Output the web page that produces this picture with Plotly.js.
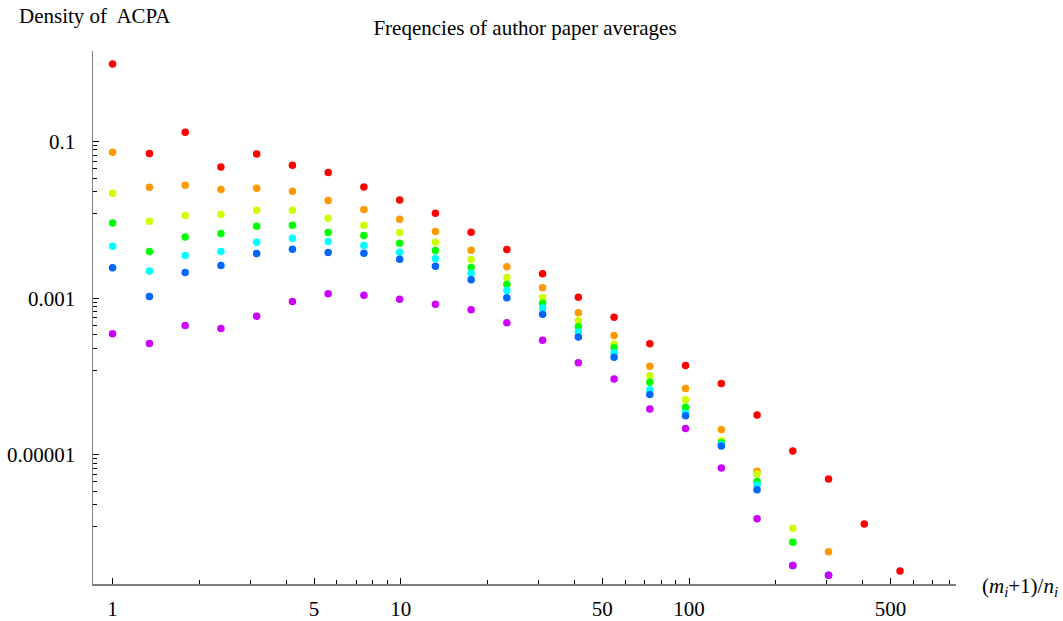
<!DOCTYPE html>
<html>
<head>
<meta charset="utf-8">
<script src="https://cdn.plot.ly/plotly-3.0.1.min.js"></script>
<style>
  html, body { margin: 0; padding: 0; background: #fff; }
  #chart { width: 1063px; height: 621px; }
</style>
</head>
<body>
<div id="chart"></div>
<script>
// x positions, (m_i+1)/n_i
const xValues = [1.00, 1.342, 1.786, 2.376, 3.161, 4.206, 5.596, 7.444, 9.904, 13.18, 17.53, 23.32,
                 31.03, 41.28, 54.93, 73.08, 97.23, 129.4, 172.1, 229.0, 304.7, 405.3, 539.3];

// densities, one array per series (null = no point)
const seriesRed    = [0.978, 0.0703, 0.1314, 0.0474, 0.0695, 0.0498, 0.0402, 0.02634, 0.01797, 0.01216, 0.00696, 0.00418,
                      0.002043, 0.00103, 0.000572, 0.000261, 0.0001384, 8.15e-5, 3.21e-5, 1.115e-5, 4.90e-6, 1.305e-6, 3.28e-7];
const seriesOrange = [0.0730, 0.0261, 0.0277, 0.0244, 0.02535, 0.0232, 0.01766, 0.01355, 0.01019, 0.0071, 0.0041, 0.00251,
                      0.001354, 0.000649, 0.000334, 0.0001347, 7.04e-5, 2.11e-5, 6.14e-6, null, 5.78e-7, null, null];
const seriesYellow = [0.02188, 0.00961, 0.01136, 0.0117, 0.01328, 0.01328, 0.0105, 0.00855, 0.0069, 0.00518, 0.00312, 0.001837,
                      0.00102, 0.000513, 0.00026, 0.000102, 5.06e-5, 1.51e-5, 5.67e-6, 1.15e-6, null, null, null];
const seriesGreen  = [0.00914, 0.00394, 0.00606, 0.0067, 0.0083, 0.00855, 0.0069, 0.00632, 0.00504, 0.00406, 0.002465, 0.001496,
                      0.000864, 0.00043, 0.000232, 8.42e-5, 4.06e-5, 1.42e-5, 4.57e-6, 7.62e-7, null, null, null];
const seriesCyan   = [0.00461, 0.00223, 0.00351, 0.00394, 0.00518, 0.00583, 0.00529, 0.00471, 0.00386, 0.00321, 0.002085, 0.001254,
                      0.000746, 0.000371, 0.0002015, 6.75e-5, 3.38e-5, 1.357e-5, 4.1e-6, null, null, null, null];
const seriesBlue   = [0.002436, 0.001051, 0.002128, 0.002615, 0.00372, 0.00422, 0.00383, 0.00375, 0.00315, 0.00256, 0.001712, 0.001009,
                      0.000625, 0.000318, 0.0001755, 5.87e-5, 3.15e-5, 1.29e-5, 3.58e-6, 3.86e-7, 2.89e-7, null, null];
const seriesPurple = [0.00035, 0.000264, 0.000448, 0.00041, 0.000589, 0.000908, 0.001135, 0.001092, 0.00097, 0.000838, 0.000709, 0.000484,
                      0.000291, 0.0001494, 9.25e-5, 3.83e-5, 2.17e-5, 6.76e-6, 1.525e-6, 3.86e-7, 2.89e-7, null, null];

// tick labels
const xTickVals = [1, 5, 10, 50, 100, 500];
const xTickText = ["1", "5", "10", "50", "100", "500"];
const yTickVals = [0.1, 0.001, 0.00001];
const yTickText = ["0.1", "0.001", "0.00001"];

const seriesList = [seriesRed, seriesOrange, seriesYellow, seriesGreen, seriesCyan, seriesBlue, seriesPurple];
const seriesColors = ["#ff0000", "#ff9900", "#ccff00", "#00ff00", "#00ffff", "#0066ff", "#cc00ff"];

// minor ticks: x standard log subdivisions, y linear subdivisions between majors (two decades apart)
const xMinor = [];
[1, 10, 100].forEach(d => {
  for (let m = 2; m <= 9; m++) { if (m !== 5) xMinor.push(m * d); }
});
const yMinor = [];
[[1e-1, 1e-3], [1e-3, 1e-5], [1e-5, 1e-7]].forEach(([a, b]) => {
  for (let k = 1; k <= 8; k++) yMinor.push(a - k * (a - b) / 9);
});

const traces = seriesList.map((ys, i) => ({
  type: "scatter",
  mode: "markers",
  x: xValues,
  y: ys,
  marker: { color: seriesColors[i], size: 7.5, line: { width: 0 } },
  hoverinfo: "x+y",
  showlegend: false
}));

const serif = "Liberation Serif, Times New Roman, serif";
const FS = 21;
const W = 1063, H = 621;
const L = 93, R = 107, T = 51, B = 37;
const pw = W - L - R, ph = H - T - B;

const layout = {
  width: W, height: H,
  margin: { l: L, r: R, t: T, b: B, pad: 0 },
  paper_bgcolor: "#ffffff",
  plot_bgcolor: "#ffffff",
  font: { family: serif, size: FS, color: "#000" },
  title: {
    text: "Freqencies of author paper averages",
    font: { family: serif, size: FS, color: "#000" },
    xref: "container", yref: "container",
    x: 525 / W, y: 1 - 28 / H, xanchor: "center", yanchor: "middle"
  },
  xaxis: {
    type: "log",
    range: [-0.068, 2.926],
    showgrid: false, zeroline: false,
    showline: true, linecolor: "#808080", linewidth: 1.5,
    ticks: "inside", ticklen: 6, tickwidth: 1, tickcolor: "#000",
    tickmode: "array", tickvals: xTickVals, ticktext: xTickText,
    tickfont: { family: serif, size: FS, color: "#000" },
    ticklabelstandoff: 5,
    minor: { tickmode: "array", tickvals: xMinor, ticks: "inside", ticklen: 4, tickwidth: 1, tickcolor: "#000", showgrid: false }
  },
  yaxis: {
    type: "log",
    range: [-6.650, 0.156],
    showgrid: false, zeroline: false,
    showline: true, linecolor: "#808080", linewidth: 1.5,
    ticks: "inside", ticklen: 6, tickwidth: 1, tickcolor: "#000",
    tickmode: "array", tickvals: yTickVals, ticktext: yTickText,
    tickfont: { family: serif, size: FS, color: "#000" },
    ticklabelstandoff: 12,
    minor: { tickmode: "array", tickvals: yMinor, ticks: "inside", ticklen: 4, tickwidth: 1, tickcolor: "#000", showgrid: false }
  },
  annotations: [
    {
      text: "Density of  ACPA",
      xref: "paper", yref: "paper",
      x: (17 - L) / pw, y: (H - B - 15.5) / ph,
      xanchor: "left", yanchor: "middle", showarrow: false,
      font: { family: serif, size: FS, color: "#000" }
    },
    {
      text: "(<i>m</i><sub><i>i</i></sub>+1)/<i>n</i><sub><i>i</i></sub>",
      xref: "paper", yref: "paper",
      x: (980 - L) / pw, y: (H - B - 587) / ph,
      xanchor: "left", yanchor: "middle", showarrow: false,
      font: { family: serif, size: FS, color: "#000" }
    }
  ]
};

Plotly.newPlot("chart", traces, layout, { displayModeBar: false, staticPlot: true });
</script>
</body>
</html>
